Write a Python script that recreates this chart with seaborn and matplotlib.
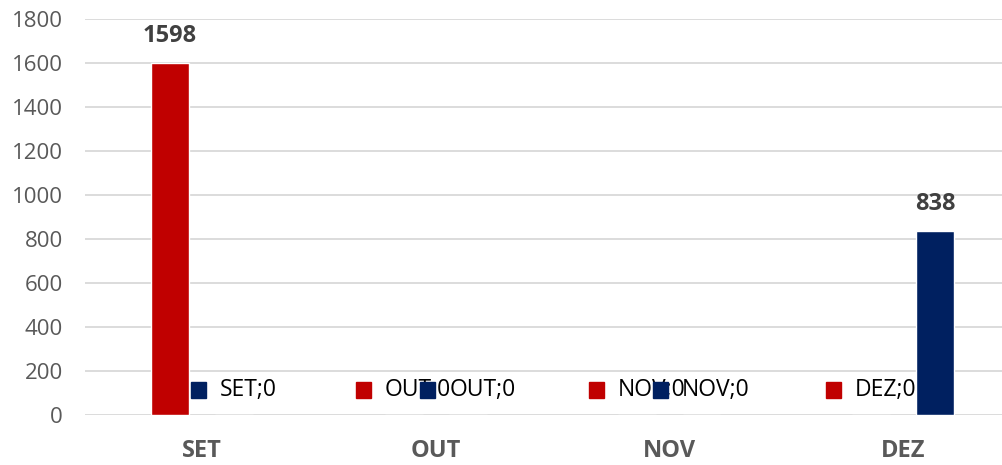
import matplotlib.pyplot as plt
import seaborn as sns
import pandas as pd
from matplotlib.offsetbox import AnnotationBbox, HPacker, TextArea, DrawingArea
from matplotlib.patches import Rectangle

# ---- dados ----
meses = ['SET', 'OUT', 'NOV', 'DEZ']
serie_vermelha = [1598, 0, 0, 0]
serie_azul = [0, 0, 0, 838]
series = ['Série 1', 'Série 2']
cores = ['#C00000', '#002060']

df = pd.DataFrame({
    'mes': meses * 2,
    'valor': serie_vermelha + serie_azul,
    'serie': [series[0]] * 4 + [series[1]] * 4,
})

sns.set_style('white')
plt.rcParams['font.family'] = ['Open Sans', 'DejaVu Sans']

fig = plt.figure(figsize=(10.03, 4.65), dpi=100)
ax = fig.add_axes([85 / 1003, 50 / 465, 918 / 1003, 396 / 465])

sns.barplot(data=df, x='mes', y='valor', hue='serie', palette=cores,
            width=0.548, gap=0.41, saturation=1, legend=False, ax=ax)

ax.set_xlim(-0.5, 3.427)
ax.set_ylim(0, 1800)
ax.set_yticks(range(0, 1801, 200))
ax.yaxis.grid(True, color='#D9D9D9', linewidth=1.3)
ax.set_axisbelow(True)
sns.despine(ax=ax, left=True, bottom=True)
ax.tick_params(axis='y', length=0, pad=16, labelsize=16, labelcolor='#595959')
ax.tick_params(axis='x', length=0, pad=17, labelsize=17, labelcolor='#595959')
for lbl in ax.get_xticklabels():
    lbl.set_fontweight('bold')
ax.set_xlabel('')
ax.set_ylabel('')

# ---- rotulos de dados ----
for cont, cor in zip(ax.containers, cores):
    for mes, barra in zip(meses, cont):
        x = barra.get_x() + barra.get_width() / 2
        h = barra.get_height()
        if h > 0:
            ax.annotate(f'{h:.0f}', (x, h), xytext=(0, 27), textcoords='offset pixels',
                        ha='center', va='center', fontsize=17, fontweight='bold', color='#404040')
        else:
            chave = DrawingArea(11, 11)
            chave.add_artist(Rectangle((0, 0), 11, 11, color=cor))
            texto = TextArea(f'{mes};0', textprops=dict(fontsize=16.5, color='black'))
            caixa = HPacker(children=[chave, texto], align='center', pad=0, sep=10)
            ab = AnnotationBbox(caixa, (x, h), xybox=(0, 25), boxcoords='offset pixels',
                                frameon=False, box_alignment=(0.5, 0.5))
            ax.add_artist(ab)

fig.savefig('out.png', dpi=100)
